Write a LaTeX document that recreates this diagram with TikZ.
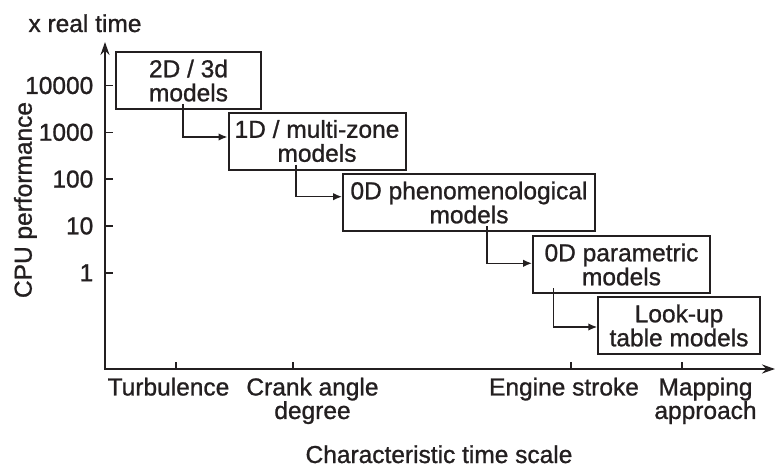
\documentclass[tikz,border=0pt]{standalone}
\usepackage{fontspec}
\setmainfont{Liberation Sans}[FakeBold=1]
\usetikzlibrary{arrows.meta}
\definecolor{ink}{RGB}{35,31,32}
\begin{document}
\begin{tikzpicture}[x=1pt,y=-1pt,
  every node/.style={text=ink, font=\fontsize{24.5}{24}\selectfont, inner sep=0pt},
  mbox/.style={draw=ink, line width=2pt, minimum height=57pt, align=center},
  conn/.style={draw=ink, line width=1.5pt, -{Latex[length=9pt,width=7.5pt]}},
  axisline/.style={draw=ink, line width=2.2pt, {Stealth[length=13pt,width=9pt]}-{Stealth[length=13pt,width=9pt]}},
  tickmark/.style={draw=ink, line width=1.6pt},
  ylab/.style={anchor=east},
  xlab/.style={anchor=north, align=center, font=\fontsize{24.5}{23.5}\selectfont}
]
\useasboundingbox (0,0) rectangle (775,468);

% axes
\coordinate (O) at (105,369);
\coordinate (ytop) at (105,42);
\coordinate (xend) at (775,369);
\draw[axisline] (ytop) -- (O) -- (xend);

% y ticks and labels
\foreach \v/\yy in {10000/85.5,1000/132.3,100/179.1,10/225.9,1/272.7} {
  \draw[tickmark] (105,\yy) -- (113,\yy);
  \node[ylab] (yl\v) at (93.5,\yy) {\v};
}

% x ticks
\foreach \xx in {176,293,570.7,682} {
  \draw[tickmark] (\xx,369) -- (\xx,362);
}

% x labels
\node[xlab] (turb) at (168.5,377.5) {Turbulence};
\node[xlab] (crank) at (312.5,377.5) {Crank angle\\degree};
\node[xlab] (stroke) at (564,377.5) {Engine stroke};
\node[xlab] (mapping) at (705.5,377.5) {Mapping\\approach};

% axis titles
\node[anchor=base] (xtitle) at (439,463) {Characteristic time scale};
\node[anchor=base] (ytitle) at (85,32) {x real time};
\node[anchor=base, rotate=90] (cpu) at (31.7,200) {CPU performance};

% model boxes
\node[mbox, minimum width=145pt] (b1) at (188.5,80.5) {2D / 3d\\models};
\node[mbox, minimum width=177pt] (b2) at (317,141) {1D / multi-zone\\models};
\node[mbox, minimum width=252pt] (b3) at (469,202.5) {0D phenomenological\\models};
\node[mbox, minimum width=177pt] (b4) at (621.5,264.5) {0D parametric\\models};
\node[mbox, minimum width=161.5pt] (b5) at (679,325.5) {Look-up\\table models};

% connectors
\draw[conn] ([xshift=-5.5pt,yshift=6pt]b1.south) |- ([yshift=4pt]b2.west);
\draw[conn] ([xshift=-21pt,yshift=6pt]b2.south) |- ([yshift=5.8pt]b3.west);
\draw[conn] ([xshift=18pt,yshift=6pt]b3.south) |- ([yshift=1.2pt]b4.west);
\draw[conn] ([xshift=-68pt,yshift=6pt]b4.south) |- ([yshift=-1.5pt]b5.west);
\end{tikzpicture}
\end{document}
